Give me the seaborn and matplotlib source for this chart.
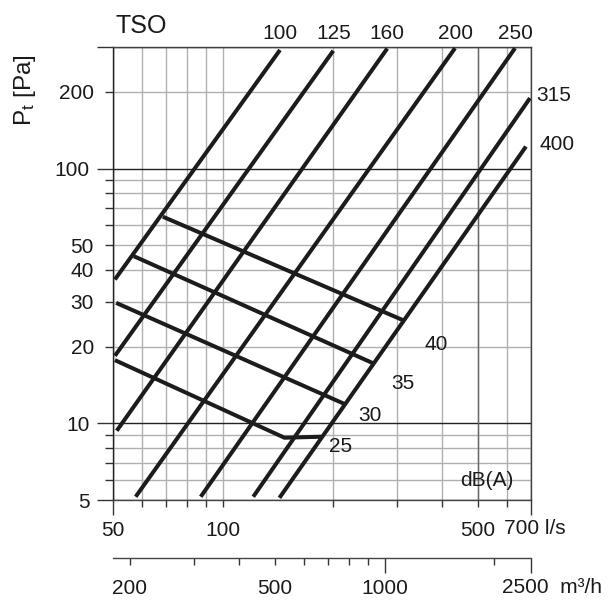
import numpy as np
import pandas as pd
import seaborn as sns
import matplotlib.pyplot as plt
import matplotlib.transforms as mtransforms

# duct sizes: start and end of each pressure line (q in l/s, p in Pa)
duct_sizes = ['100', '125', '160', '200', '250', '315', '400']
duct_q_start = [50.6, 50.6, 51.2, 57.7, 87.0, 121.2, 143.0]
duct_p_start = [36.7, 18.4, 9.35, 5.15, 5.15, 5.15, 5.1]
duct_q_end = [143.5, 200.9, 282.5, 433.4, 633.0, 695.5, 678.0]
duct_p_end = [292.0, 290.0, 296.0, 297.0, 297.0, 189.0, 122.0]

# sound level lines dB(A)
db_levels = ['40', '35', '30', '25']
db40_q = [68.5, 314.0]
db40_p = [64.7, 25.3]
db35_q = [57.0, 258.6]
db35_p = [45.3, 17.2]
db30_q = [51.0, 216.0]
db30_p = [29.7, 11.9]
db25_q = [50.6, 147.6, 186.5]
db25_p = [17.7, 8.78, 8.86]

# label anchors for the dB(A) values
db_label_q = [385.5, 312.6, 253.0, 210.5]
db_label_p = [20.3, 14.3, 10.7, 8.09]

# axis ticks
x_minor = [60, 70, 80, 90, 100, 200, 300, 400, 500, 600]
x_minor_labels = ['', '', '', '', '100', '', '', '', '500', '']
y_minor = [6, 7, 8, 9, 20, 30, 40, 50, 60, 70, 80, 90, 200]
y_minor_labels = ['', '', '', '', '20', '30', '40', '50', '', '', '', '', '200']
m3h_minor = [200, 300, 400, 500, 600, 700, 800, 900, 2000]
m3h_minor_labels = ['200', '', '', '500', '', '', '', '', '']

FS = 15

sns.set_theme(style='white')
plt.rcParams['font.family'] = ['Liberation Sans', 'DejaVu Sans']
plt.rcParams['mathtext.fontset'] = 'custom'
plt.rcParams['mathtext.rm'] = 'Liberation Sans'
plt.rcParams['mathtext.it'] = 'Liberation Sans'
plt.rcParams['text.color'] = '#1a1a1a'
plt.rcParams['xtick.color'] = '#333333'
plt.rcParams['ytick.color'] = '#333333'
plt.rcParams['xtick.labelcolor'] = '#1a1a1a'
plt.rcParams['ytick.labelcolor'] = '#1a1a1a'

fig = plt.figure(figsize=(6.08, 6.0), dpi=100)
ax = fig.add_axes([113 / 608, 100 / 600, 418 / 608, 453 / 600])
ax.set_xscale('log')
ax.set_yscale('log')

# long table: one unit per line
rows = []
for i, s in enumerate(duct_sizes):
    rows.append(('d' + s, duct_q_start[i], duct_p_start[i]))
    rows.append(('d' + s, duct_q_end[i], duct_p_end[i]))
for name, qs, ps in [('n40', db40_q, db40_p), ('n35', db35_q, db35_p),
                     ('n30', db30_q, db30_p), ('n25', db25_q, db25_p)]:
    for q, p in zip(qs, ps):
        rows.append((name, q, p))
df = pd.DataFrame(rows, columns=['line', 'q', 'p'])

sns.lineplot(data=df, x='q', y='p', units='line', estimator=None, sort=False,
             color='#1c1c1c', lw=2.9, solid_capstyle='butt', legend=False, ax=ax, zorder=3)

ax.set_xlim(50, 700)
ax.set_ylim(5, 300)
ax.set_xlabel('')
ax.set_ylabel('')

ax.set_xticks([50, 700], ['50', ''])
ax.set_xticks(x_minor, x_minor_labels, minor=True)
ax.set_yticks([5, 10, 100, 300], ['5', '10', '100', ''])
ax.set_yticks(y_minor, y_minor_labels, minor=True)
ax.tick_params(axis='x', which='major', length=10.8, width=1, pad=4.5, labelsize=FS, bottom=True)
ax.tick_params(axis='x', which='minor', length=5, width=1, pad=10.3, labelsize=FS, bottom=True)
ax.tick_params(axis='y', which='major', length=11.5, width=1, pad=5.5, labelsize=FS, left=True)
ax.tick_params(axis='y', which='minor', length=5.8, width=1, pad=8.0, labelsize=FS, left=True)

ax.grid(True, which='minor', color='#b0b0b0', lw=1)
ax.grid(True, which='major', color='#222222', lw=1)
ax.axvline(500, color='#666666', lw=1, zorder=1)
for side in ['top', 'right', 'bottom']:
    ax.spines[side].set_color('#444444')
    ax.spines[side].set_linewidth(1)
ax.spines['left'].set_color('#222222')
ax.spines['left'].set_linewidth(1)

# texts
ax.text(0.005, 1.031, 'TSO', transform=ax.transAxes, fontsize=18, ha='left', va='baseline')
top = mtransforms.blended_transform_factory(ax.transData, ax.transAxes)
for s, q in zip(duct_sizes[:5], duct_q_end[:5]):
    ax.text(q, 1.017, s, transform=top, fontsize=FS, ha='center', va='baseline')
ax.text(1.012, 0.894, duct_sizes[5], transform=ax.transAxes, fontsize=FS, ha='left', va='center')
ax.text(1.0215, 0.784, duct_sizes[6], transform=ax.transAxes, fontsize=FS, ha='left', va='center')
for s, q, p in zip(db_levels, db_label_q, db_label_p):
    ax.text(q, p, s, fontsize=FS, ha='center', va='center')
ax.text(528.6, 5.96, 'dB(A)', fontsize=FS, ha='center', va='center')
ax.text(0.936, -0.064, '700 l/s', transform=ax.transAxes, fontsize=FS, ha='left', va='center')
ax.text(-0.2105, 0.905, r'$\mathrm{P_t}$ [Pa]', transform=ax.transAxes, fontsize=17.5,
        rotation=90, ha='center', va='center')

# second flow scale in m3/h
ax2 = fig.add_axes([113 / 608, (600 - 557.7) / 600, 418 / 608, 0.0001])
ax2.set_xscale('log')
ax2.set_xlim(50 * 3.6, 700 * 3.6)
ax2.set_yticks([])
ax2.patch.set_alpha(0)
for side in ['top', 'left', 'right']:
    ax2.spines[side].set_visible(False)
ax2.spines['bottom'].set_color('#444444')
ax2.spines['bottom'].set_linewidth(1)
ax2.set_xticks([1000, 2520], ['1000', ''])
ax2.set_xticks(m3h_minor, m3h_minor_labels, minor=True)
ax2.tick_params(axis='x', which='major', length=10.8, width=1, pad=4.8, labelsize=FS, bottom=True)
ax2.tick_params(axis='x', which='minor', length=5, width=1, pad=10.5, labelsize=FS, bottom=True)
fig.text(502 / 608, (600 - 587.5) / 600, '2500  m³/h', fontsize=FS, ha='left', va='center')

fig.savefig('out.png', dpi=100)
